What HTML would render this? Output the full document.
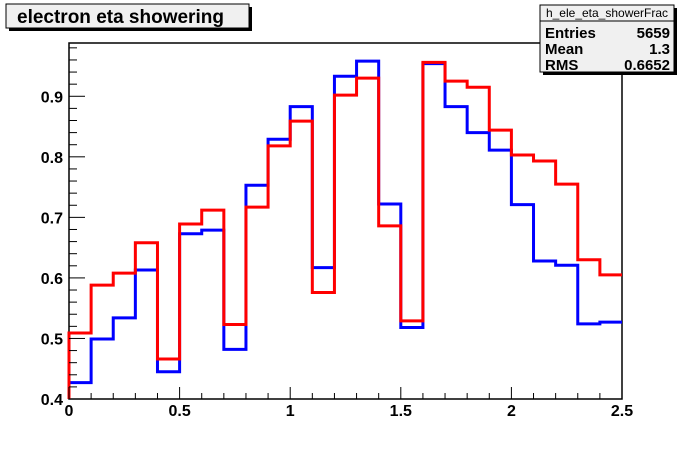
<!DOCTYPE html>
<html><head><meta charset="utf-8"><style>
body{margin:0;background:#fff;width:692px;height:444px;overflow:hidden;font-family:"Liberation Sans",sans-serif}
</style></head><body>
<svg width="692" height="444" xmlns="http://www.w3.org/2000/svg">
<rect x="0" y="0" width="692" height="444" fill="#fff"/>
<g id="frame-g"></g>
<g id="series-g"></g>
<g id="axes-g" font-family="Liberation Sans, sans-serif" font-weight="bold" font-size="16"></g>
<g>
<rect x="9" y="7" width="243" height="24" fill="#000"/>
<rect x="6" y="4" width="243" height="24" fill="#f0f0f0" stroke="#000" stroke-width="1"/>
<text x="17" y="23" font-size="19" font-weight="bold" font-family="Liberation Sans, sans-serif">electron eta showering</text>
</g>
<g font-family="Liberation Sans, sans-serif">
<rect x="543" y="8" width="134" height="67" fill="#000"/>
<rect x="540" y="5" width="134" height="67" fill="#f0f0f0" stroke="#000" stroke-width="1"/>
<line x1="540" y1="21" x2="674" y2="21" stroke="#000"/>
<text x="607" y="17" font-size="12" text-anchor="middle">h_ele_eta_showerFrac</text>
<text x="545" y="38" font-size="15" font-weight="bold">Entries</text>
<text x="670" y="38" font-size="15" font-weight="bold" text-anchor="end">5659</text>
<text x="545" y="54" font-size="15" font-weight="bold">Mean</text>
<text x="670" y="54" font-size="15" font-weight="bold" text-anchor="end">1.3</text>
<text x="545" y="70" font-size="15" font-weight="bold">RMS</text>
<text x="670" y="70" font-size="15" font-weight="bold" text-anchor="end">0.6652</text>
</g>
</svg>
<script>
const binEdgesStart = 0, binWidth = 0.1;
const blueValues = [0.427,0.499,0.534,0.613,0.445,0.673,0.679,0.482,0.753,0.829,0.883,0.617,0.933,0.958,0.722,0.518,0.954,0.883,0.840,0.811,0.721,0.628,0.621,0.524,0.527];
const redValues = [0.509,0.588,0.608,0.658,0.466,0.689,0.712,0.523,0.717,0.818,0.859,0.576,0.902,0.930,0.686,0.529,0.956,0.925,0.915,0.844,0.803,0.793,0.755,0.630,0.605];
const xTickLabels = ["0","0.5","1","1.5","2","2.5"];
const xTickValues = [0,0.5,1,1.5,2,2.5];
const yTickLabels = ["0.4","0.5","0.6","0.7","0.8","0.9"];
const yTickValues = [0.4,0.5,0.6,0.7,0.8,0.9];

const NS="http://www.w3.org/2000/svg";
const L=69,R=622,T=43,B=399,xMin=0,xMax=2.5,yMin=0.4,yMax=0.988;
const xs=v=>L+(v-xMin)/(xMax-xMin)*(R-L);
const ys=v=>B-(v-yMin)/(yMax-yMin)*(B-T);
function mk(tag,attrs,parent){const e=document.createElementNS(NS,tag);for(const k in attrs)e.setAttribute(k,attrs[k]);parent.appendChild(e);return e;}
const fg=document.getElementById('frame-g'),sg=document.getElementById('series-g'),ag=document.getElementById('axes-g');
const fr=mk('rect',{x:L,y:T,width:R-L,height:B-T,fill:'none',stroke:'#000','stroke-width':1.5},fg);


function hist(vals,color,name){
  let d='M'+xs(binEdgesStart)+','+ys(yMin);
  vals.forEach((v,i)=>{const x0=xs(binEdgesStart+i*binWidth),x1=xs(binEdgesStart+(i+1)*binWidth);d+=' L'+x0+','+ys(v)+' L'+x1+','+ys(v);});
  d+=' L'+xs(binEdgesStart+vals.length*binWidth)+','+ys(vals[vals.length-1]);
  const p=mk('path',{d:d,fill:'none',stroke:color,'stroke-width':3,'stroke-linejoin':'miter'},sg);
  
  
}
hist(blueValues,'#0000ff','blue-histogram');
hist(redValues,'#ff0000','red-histogram');
// x ticks
for(let i=0;i<=25;i++){const v=i*0.1;const major=i%5===0;
  const t=mk('line',{x1:xs(v),x2:xs(v),y1:B,y2:B-(major?12:6),stroke:'#000','stroke-width':1},ag);
  
  }
xTickValues.forEach((v,i)=>{const t=mk('text',{x:xs(v),y:B+17,'text-anchor':'middle'},ag);t.textContent=xTickLabels[i];
  
  });
// y ticks
for(let i=0;i<=58;i++){const v=0.4+i*0.01*1;if(v>yMax+1e-9)break;}
for(let i=0;;i++){const v=0.4+i*0.02;if(v>yMax)break;const major=i%5===0;
  const t=mk('line',{x1:L,x2:L+(major?16:8),y1:ys(v),y2:ys(v),stroke:'#000','stroke-width':1},ag);
  
  }
yTickValues.forEach((v,i)=>{const t=mk('text',{x:L-6,y:ys(v)+6,'text-anchor':'end'},ag);t.textContent=yTickLabels[i];
  
  });
</script>
</body></html>
